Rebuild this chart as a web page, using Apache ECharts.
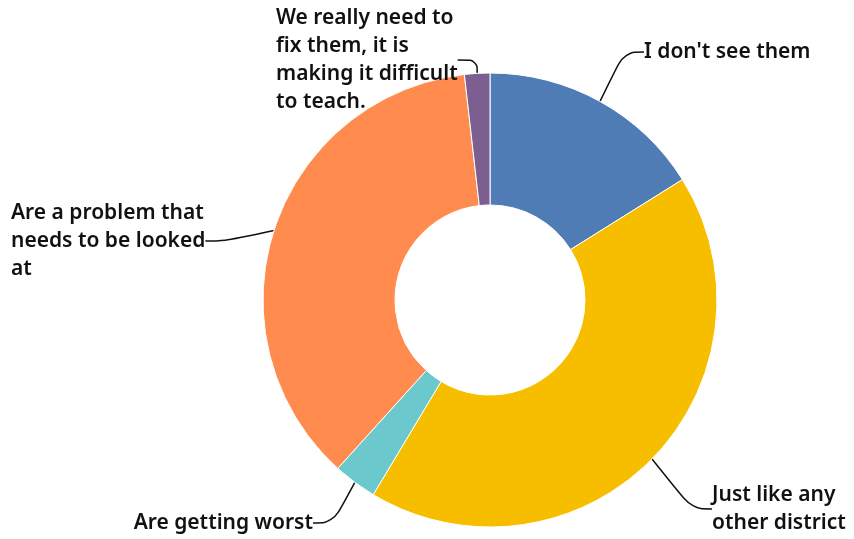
<!DOCTYPE html>
<html>
<head>
<meta charset="utf-8">
<script src="https://cdn.jsdelivr.net/npm/echarts@6/dist/echarts.min.js"></script>
<style>html,body{margin:0;padding:0;background:#fff}#c{width:854px;height:539px}</style>
</head>
<body>
<div id="c"></div>
<script>
const categories = [
  "I don't see them",
  "Just like any\nother district",
  "Are getting worst",
  "Are a problem that\nneeds to be looked\nat",
  "We really need to\nfix them, it is\nmaking it difficult\nto teach."
];
const values = [16.1, 42.5, 3.1, 36.5, 1.8];
const colors = ['#507cb6', '#f7be00', '#6bc8cd', '#ff8b4f', '#7c5e90'];

// label placement (layout only)
const labelPos = [
  {x: 644, y: 52, align: 'left'},
  {x: 712, y: 509, align: 'left'},
  {x: 313, y: 523, align: 'right'},
  {x: 11, y: 241, align: 'left'},
  {x: 276, y: 60, align: 'left'}
];

const chart = echarts.init(document.getElementById('c'));
chart.setOption({
  animation: false,
  series: [{
    type: 'pie',
    center: [490, 300],
    radius: [95, 227],
    startAngle: 90,
    clockwise: true,
    itemStyle: {borderColor: '#fff', borderWidth: 1},
    label: {
      show: true,
      color: '#111',
      fontFamily: 'Noto Sans',
      fontWeight: 600,
      fontSize: 21,
      lineHeight: 27.7,
      formatter: '{b}'
    },
    labelLine: {show: true, smooth: 0.4, lineStyle: {color: '#111', width: 1.5}, length: 20, length2: 20},
    labelLayout: function (p) {
      const l = labelPos[p.dataIndex];
      return {x: l.x, y: l.y, align: l.align, verticalAlign: 'middle'};
    },
    data: categories.map((c, i) => ({name: c, value: values[i], itemStyle: {color: colors[i]}}))
  }]
});
</script>
</body>
</html>
